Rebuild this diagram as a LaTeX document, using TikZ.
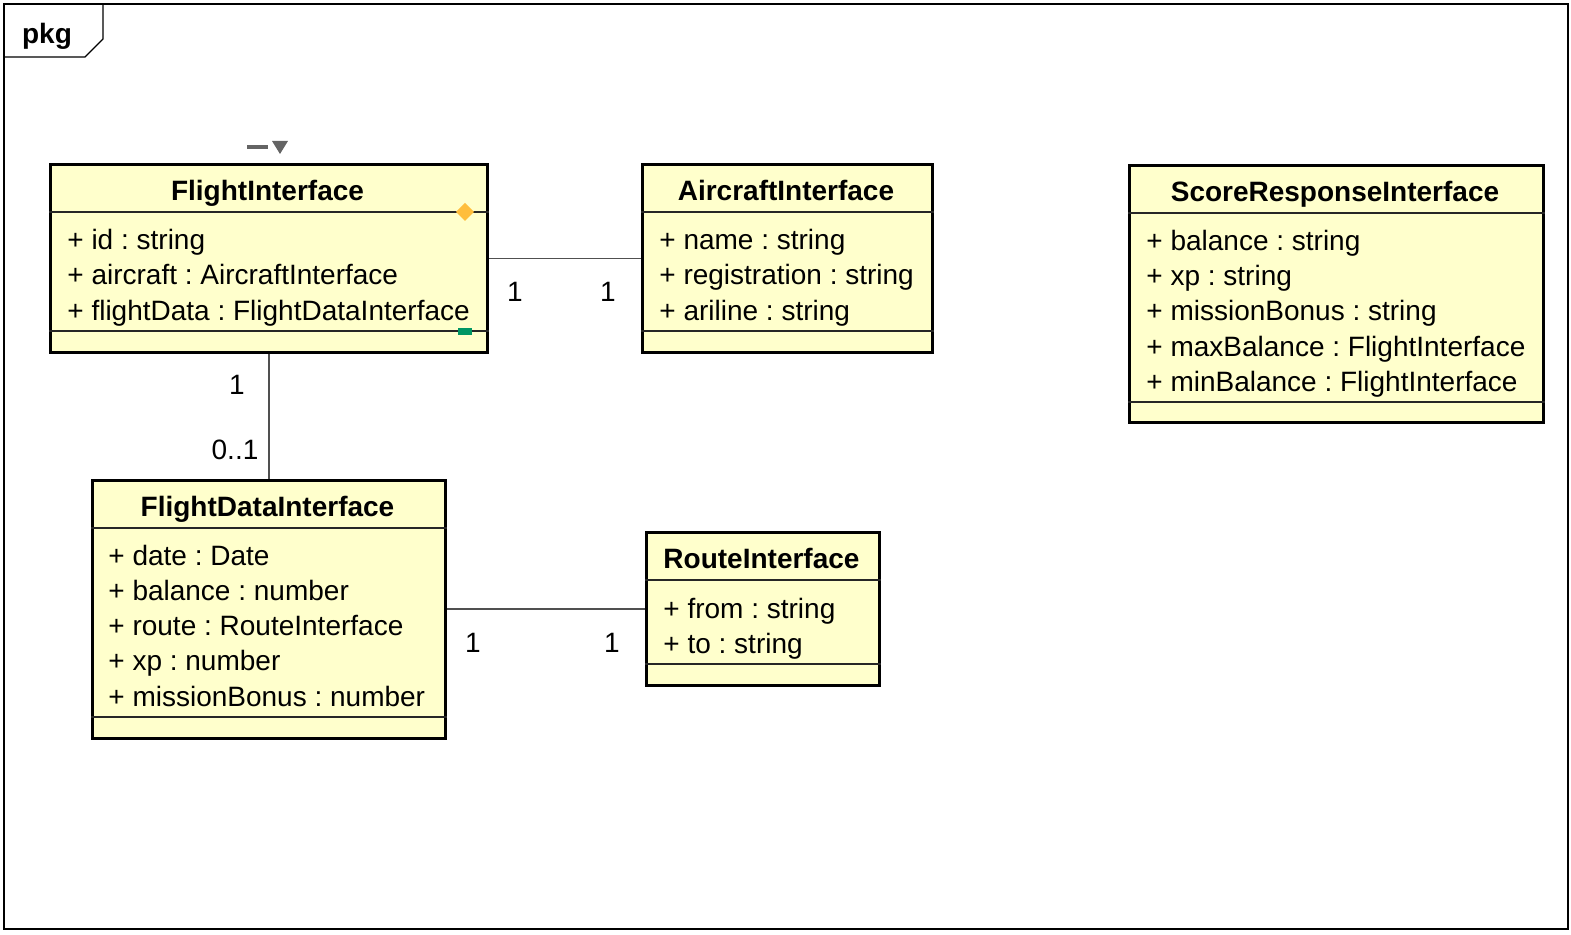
\documentclass[tikz,border=0pt]{standalone}
\usepackage{fontspec}
\setmainfont{Liberation Sans}
\usepackage{xcolor}
\frenchspacing
\definecolor{classfill}{RGB}{255,255,204}
\definecolor{linkgray}{RGB}{80,80,80}
\definecolor{markgray}{RGB}{100,100,100}
\definecolor{markorange}{RGB}{255,190,60}
\definecolor{markgreen}{RGB}{0,150,100}
\tikzset{
  classbox/.style={draw=black, fill=classfill, line width=1.5pt, inner sep=0pt, anchor=north west},
  classsep/.style={draw=black!85, line width=0.7pt},
  classtitle/.style={anchor=base, inner sep=0pt, font=\fontsize{14}{16}\selectfont\bfseries},
  attr/.style={anchor=base west, inner sep=0pt, font=\fontsize{14}{16}\selectfont},
  mult/.style={anchor=base, inner sep=0pt, font=\fontsize{14}{16}\selectfont},
  link/.style={draw=linkgray, line width=0.7pt}
}
\begin{document}
\begin{tikzpicture}[x=0.5pt, y=-0.5pt]
        \useasboundingbox (0,0) rectangle (1571,935);
        % Draw the package frame and its tab
        \draw[line width=1pt] (4,4) rectangle (1568,929);
        \draw[line width=0.7pt] (4,57) -- (85,57) -- (103,39) -- (103,4);
        \node[classtitle] (pkg) at (47,44) {pkg};

        % Draw the classes
        \node[classbox, minimum width=218.5pt, minimum height=94pt] (fi) at (49,163) {};
        \node[classbox, minimum width=145pt, minimum height=94pt] (ai) at (641,163) {};
        \node[classbox, minimum width=207pt, minimum height=128.5pt] (sri) at (1128,164) {};
        \node[classbox, minimum width=176.5pt, minimum height=129pt] (fdi) at (91,479) {};
        \node[classbox, minimum width=116.5pt, minimum height=76.5pt] (ri) at (645,531) {};

        % Compartment lines
        \draw[classsep] (fi.west |- 0,212) -- (fi.east |- 0,212);
        \draw[classsep] (fi.west |- 0,331) -- (fi.east |- 0,331);
        \draw[classsep] (ai.west |- 0,212) -- (ai.east |- 0,212);
        \draw[classsep] (ai.west |- 0,331) -- (ai.east |- 0,331);
        \draw[classsep] (sri.west |- 0,213) -- (sri.east |- 0,213);
        \draw[classsep] (sri.west |- 0,402) -- (sri.east |- 0,402);
        \draw[classsep] (fdi.west |- 0,528) -- (fdi.east |- 0,528);
        \draw[classsep] (fdi.west |- 0,717) -- (fdi.east |- 0,717);
        \draw[classsep] (ri.west |- 0,580) -- (ri.east |- 0,580);
        \draw[classsep] (ri.west |- 0,664) -- (ri.east |- 0,664);

        % Class names
        \node[classtitle] (fi-name) at (267.5,201) {FlightInterface};
        \node[classtitle] (ai-name) at (786,201) {AircraftInterface};
        \node[classtitle] (sri-name) at (1335,202) {ScoreResponseInterface};
        \node[classtitle] (fdi-name) at (267.5,517) {FlightDataInterface};
        \node[classtitle] (ri-name) at (761.5,569) {RouteInterface};

        % Attributes
        \foreach \y/\t in {250/{+ id : string}, 285/{+ aircraft : AircraftInterface},
                           321/{+ flightData : FlightDataInterface}}
            \node[attr] at (67,\y) {\t};
        \foreach \y/\t in {250/{+ name : string}, 285/{+ registration : string},
                           321/{+ ariline : string}}
            \node[attr] at (659,\y) {\t};
        \foreach \y/\t in {251/{+ balance : string}, 286/{+ xp : string},
                           321/{+ missionBonus : string}, 357/{+ maxBalance : FlightInterface},
                           392/{+ minBalance : FlightInterface}}
            \node[attr] at (1146,\y) {\t};
        \foreach \y/\t in {566/{+ date : Date}, 601/{+ balance : number},
                           636/{+ route : RouteInterface}, 671/{+ xp : number},
                           707/{+ missionBonus : number}}
            \node[attr] at (108,\y) {\t};
        \foreach \y/\t in {619/{+ from : string}, 654/{+ to : string}}
            \node[attr] at (663,\y) {\t};

        % Small markers on FlightInterface
        \draw[markgray, line width=2pt] (247,147) -- (268,147);
        \fill[markgray] (272,141) -- (288,141) -- (280,154) -- cycle;
        \fill[markorange] (465,203) -- (474,212) -- (465,221) -- (456,212) -- cycle;
        \fill[markgreen] (458,328) rectangle (472,335);

        % Associations
        \draw[link] (fi) -- (ai);
        \draw[link] (fi) -- (fdi);
        \draw[link] (fdi.east |- ri.west) -- (ri.west);

        % Multiplicities
        \node[mult] (m-fi-ai) at (515,302) {1};
        \node[mult] (m-ai-fi) at (608,302) {1};
        \node[mult] (m-fi-fdi) at (237,395) {1};
        \node[mult] (m-fdi-fi) at (235,460) {0..1};
        \node[mult] (m-fdi-ri) at (473,653) {1};
        \node[mult] (m-ri-fdi) at (612,653) {1};
\end{tikzpicture}
\end{document}
